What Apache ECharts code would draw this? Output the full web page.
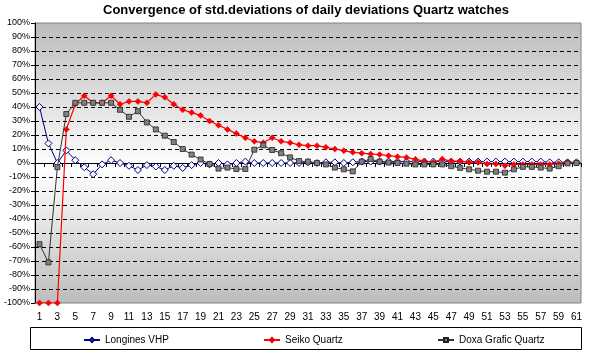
<!DOCTYPE html>
<html>
<head>
<meta charset="utf-8">
<script src="https://cdn.jsdelivr.net/npm/echarts@6/dist/echarts.min.js"></script>
<style>html,body{margin:0;padding:0;background:#fff}#c{width:590px;height:357px}</style>
</head>
<body>
<div id="c"></div>
<script>
const categories = Array.from({length: 61}, (_, i) => String(i + 1));
const longines = [40,14,0,9,2,-3,-8,-1,2,0,-2,-5,-1.5,-2.5,-5,-2,-3.5,-1.5,0,-1,0,-1,0,1,0,
  0,0,0,0,0,0.5,0,0.5,0.5,0,0.5,1,1,1,1,1,1,1,1,1,1,1,1,1,1,1,1,1,1,1,1,1,0.5,0.5,0.5,0.5];
const seiko = [-100,-100,-100,24,42,48,43,43,48,42,44,44,43,49,47,42,38,36,34,30,27,24,21,18,15.5,
  14.5,18,15.5,14.5,13,12.4,12.4,11.2,10,8.8,7.6,7,6.4,6,5.2,4.5,4,2.6,1.4,0.5,2.8,1.4,1.4,0.5,0.5,
  -0.7,-0.7,-1.9,-1,-1,-1,-1,-1,-0.5,0.5,0];
const doxa = [-58,-71,-3,35,43,43,43,43,43,38,33,37,29,24,19.5,15,10,6,2.5,-0.7,-4,-3.3,-4.3,-4.3,9.5,
  12.6,9.3,7,4,1.4,1,0,-1,-3.3,-4.5,-6,1,2.8,1,0.3,0,-0.5,-1,-1,-1,-1,-2.3,-3.5,-4.5,-5.5,-6.2,-6.2,
  -6.9,-4.5,-2.8,-2.8,-3.3,-4,-2.3,-0.3,0];
const seriesNames = ['Longines VHP', 'Seiko Quartz', 'Doxa Grafic Quartz'];
const titleText = 'Convergence of std.deviations of daily deviations Quartz watches';

const FONT = 'Arial, "Liberation Sans", sans-serif';
const chart = echarts.init(document.getElementById('c'), null, {renderer: 'canvas'});
const legendBase = {itemWidth: 16, itemHeight: 5, padding: 0, top: 335,
  textStyle: {fontFamily: FONT, fontSize: 10, color: '#000'}};
chart.setOption({
  animation: false,
  backgroundColor: '#fff',
  title: {
    text: titleText, left: 103, top: 4, padding: 0,
    textStyle: {fontFamily: FONT, fontSize: 13, fontWeight: 'bold', color: '#000'}
  },
  graphic: [{
    type: 'rect', z: 0, silent: true,
    shape: {x: 30.5, y: 327.5, width: 551, height: 22},
    style: {fill: '#fff', stroke: '#000', lineWidth: 1}
  }],
  legend: [
    Object.assign({data: [seriesNames[0]], left: 83}, legendBase),
    Object.assign({data: [seriesNames[1]], left: 263}, legendBase),
    Object.assign({data: [seriesNames[2]], left: 437}, legendBase)
  ],
  grid: {
    left: 35, right: 9, top: 23, bottom: 54, show: true,
    borderColor: '#808080', borderWidth: 1,
    backgroundColor: {type: 'linear', x: 0, y: 0, x2: 0, y2: 1, colorStops: [
      {offset: 0, color: '#bcbcbc'}, {offset: 0.52, color: '#ffffff'}, {offset: 1, color: '#bcbcbc'}]}
  },
  xAxis: [{
    type: 'category', data: categories, boundaryGap: true, position: 'bottom',
    axisLine: {onZero: true, lineStyle: {color: '#000', width: 1}},
    axisTick: {show: true, interval: 0, length: 4, lineStyle: {color: '#000'}},
    axisLabel: {show: false}, splitLine: {show: false}
  }, {
    type: 'category', data: categories, boundaryGap: true, position: 'bottom',
    axisLine: {show: false, onZero: false}, axisTick: {show: false},
    axisLabel: {interval: 1, margin: 9, fontFamily: FONT, fontSize: 10, color: '#000'},
    splitLine: {show: false}
  }],
  yAxis: {
    type: 'value', min: -100, max: 100, interval: 10,
    axisLine: {show: true, lineStyle: {color: '#000'}},
    axisTick: {show: true, length: 4, lineStyle: {color: '#000'}},
    axisLabel: {formatter: '{value}%', margin: 5, fontFamily: FONT, fontSize: 9, color: '#000'},
    splitLine: {show: true, showMinLine: false, showMaxLine: false,
      lineStyle: {color: '#000', type: [4, 3], width: 1}}
  },
  series: [{
    name: seriesNames[0], type: 'line', data: longines, xAxisIndex: 0, showAllSymbol: true,
    symbol: 'diamond', symbolSize: 7,
    lineStyle: {color: '#000080', width: 1},
    itemStyle: {color: '#ffffff', borderColor: '#000080', borderWidth: 1}, z: 3
  }, {
    name: seriesNames[1], type: 'line', data: seiko, xAxisIndex: 0, showAllSymbol: true,
    symbol: 'diamond', symbolSize: 6,
    lineStyle: {color: '#ff0000', width: 1.2},
    itemStyle: {color: '#ff0000', borderColor: '#e00000', borderWidth: 0.5}, z: 4
  }, {
    name: seriesNames[2], type: 'line', data: doxa, xAxisIndex: 0, showAllSymbol: true,
    symbol: 'rect', symbolSize: 5,
    lineStyle: {color: '#333333', width: 1},
    itemStyle: {color: '#808080', borderColor: '#222', borderWidth: 0.8}, z: 5
  }]
});
</script>
</body>
</html>
